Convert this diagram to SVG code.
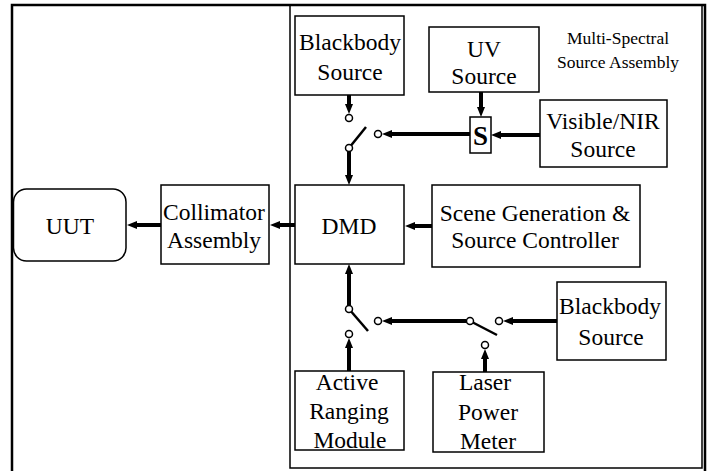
<svg xmlns="http://www.w3.org/2000/svg" width="708" height="471" viewBox="0 0 708 471">
<style>
.box{fill:#fff;stroke:#000;stroke-width:1.5}
.lbl{font-family:"Liberation Serif","Times New Roman",serif;font-size:23.5px;fill:#000;text-anchor:middle}
.small{font-family:"Liberation Serif","Times New Roman",serif;font-size:17.5px;fill:#000;text-anchor:middle}
.wire{stroke:#000;stroke-width:4;fill:none}
.arm{stroke:#000;stroke-width:2.5;fill:none}
.term{fill:#fff;stroke:#000;stroke-width:1.5}
</style>
<defs>
<marker id="ah" viewBox="0 0 10 10" markerWidth="10" markerHeight="10" markerUnits="userSpaceOnUse" refX="4" refY="5" orient="auto">
<path d="M0,1 L10,5 L0,9 z" fill="#000"/>
</marker>
</defs>
<rect width="708" height="471" fill="#fff"/>
<g id="frame">
<path d="M12,475 V5 H705 V475" fill="none" stroke="#000" stroke-width="2.5"/>
</g>
<g id="assembly">
<rect x="290" y="5" width="412" height="463" fill="none" stroke="#000" stroke-width="1.5"/>
<text class="small" x="618" y="44">Multi-Spectral</text>
<text class="small" x="618" y="68">Source Assembly</text>
</g>
<g id="uut">
<rect class="box" x="13.5" y="189" width="112.5" height="72" rx="13"/>
<text class="lbl" x="70" y="234">UUT</text>
</g>
<g id="collimator">
<rect class="box" x="161" y="185" width="108" height="79"/>
<text class="lbl" x="214" y="220">Collimator</text>
<text class="lbl" x="214" y="248">Assembly</text>
</g>
<g id="dmd">
<rect class="box" x="295" y="185" width="109" height="79"/>
<text class="lbl" x="349" y="234">DMD</text>
</g>
<g id="scene">
<rect class="box" x="432" y="185" width="208" height="82"/>
<text class="lbl" x="535" y="221">Scene Generation &amp;</text>
<text class="lbl" x="535" y="248">Source Controller</text>
</g>
<g id="blackbody-top">
<rect class="box" x="295" y="16" width="109" height="79"/>
<text class="lbl" x="350" y="50">Blackbody</text>
<text class="lbl" x="350" y="80">Source</text>
</g>
<g id="uv">
<rect class="box" x="429" y="27" width="110" height="65"/>
<text class="lbl" x="484" y="57">UV</text>
<text class="lbl" x="484" y="84">Source</text>
</g>
<g id="visnir">
<rect class="box" x="540" y="100" width="127" height="67"/>
<text class="lbl" x="603" y="129">Visible/NIR</text>
<text class="lbl" x="603" y="157">Source</text>
</g>
<g id="s">
<rect class="box" x="470" y="117" width="21" height="36"/>
<text x="480.5" y="145" style="font-family:'Liberation Serif','Times New Roman',serif;font-size:27px;font-weight:bold;text-anchor:middle">S</text>
</g>
<g id="blackbody-bottom">
<rect class="box" x="557" y="282" width="109" height="78"/>
<text class="lbl" x="610" y="314">Blackbody</text>
<text class="lbl" x="611" y="345">Source</text>
</g>
<g id="ranging">
<rect class="box" x="295" y="371" width="109" height="79"/>
<text class="lbl" x="347" y="390">Active</text>
<text class="lbl" x="349" y="419">Ranging</text>
<text class="lbl" x="350" y="448">Module</text>
</g>
<g id="laser">
<rect class="box" x="433" y="372" width="111" height="80"/>
<text class="lbl" x="485" y="390">Laser</text>
<text class="lbl" x="488" y="420">Power</text>
<text class="lbl" x="488" y="449">Meter</text>
</g>
<g id="connectors">
<line class="wire" x1="161" y1="225" x2="133" y2="225" marker-end="url(#ah)"/>
<line class="wire" x1="295" y1="225" x2="276" y2="225" marker-end="url(#ah)"/>
<line class="wire" x1="432" y1="226" x2="411" y2="226" marker-end="url(#ah)"/>
<line class="wire" x1="349" y1="95" x2="349" y2="108" marker-end="url(#ah)"/>
<line class="wire" x1="349" y1="151.5" x2="349" y2="179" marker-end="url(#ah)"/>
<line class="wire" x1="481" y1="92" x2="481" y2="111" marker-end="url(#ah)"/>
<line class="wire" x1="540" y1="135" x2="497" y2="135" marker-end="url(#ah)"/>
<line class="wire" x1="470" y1="134" x2="388" y2="134" marker-end="url(#ah)"/>
<line class="wire" x1="349" y1="305.5" x2="349" y2="270" marker-end="url(#ah)"/>
<line class="wire" x1="349" y1="371" x2="349" y2="344" marker-end="url(#ah)"/>
<line class="wire" x1="466.5" y1="321" x2="388" y2="321" marker-end="url(#ah)"/>
<line class="wire" x1="557" y1="321" x2="509" y2="321" marker-end="url(#ah)"/>
<line class="wire" x1="485" y1="372" x2="485" y2="355" marker-end="url(#ah)"/>
<line class="arm" x1="349" y1="148" x2="366" y2="127"/>
<line class="arm" x1="349" y1="309" x2="368" y2="331"/>
<line class="arm" x1="470" y1="321" x2="497" y2="335"/>
<circle class="term" cx="349" cy="118" r="3.5"/>
<circle class="term" cx="349" cy="148" r="3.5"/>
<circle class="term" cx="378" cy="134" r="3.5"/>
<circle class="term" cx="349" cy="309" r="3.5"/>
<circle class="term" cx="349" cy="334" r="3.5"/>
<circle class="term" cx="378" cy="321" r="3.5"/>
<circle class="term" cx="470" cy="321" r="3.5"/>
<circle class="term" cx="499" cy="321" r="3.5"/>
<circle class="term" cx="485" cy="345" r="3.5"/>
</g>
</svg>
